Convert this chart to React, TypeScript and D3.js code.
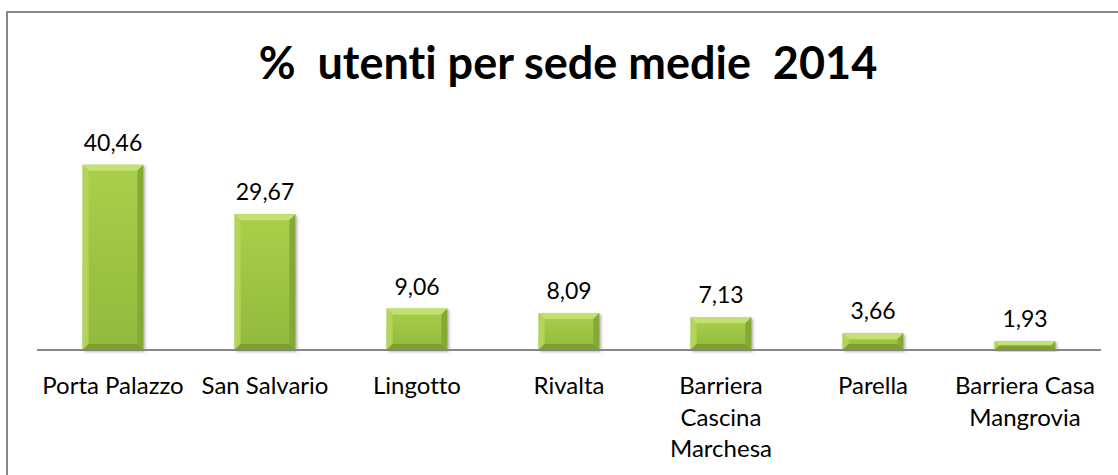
import React from "react";
import * as d3 from "d3";

const categories: string[][] = [
  ["Porta Palazzo"],
  ["San Salvario"],
  ["Lingotto"],
  ["Rivalta"],
  ["Barriera", "Cascina", "Marchesa"],
  ["Parella"],
  ["Barriera Casa", "Mangrovia"],
];
const values: number[] = [40.46, 29.67, 9.06, 8.09, 7.13, 3.66, 1.93];
const valueLabels: string[] = ["40,46", "29,67", "9,06", "8,09", "7,13", "3,66", "1,93"];
const title = "% \u00a0utenti per sede medie\u00a0\u00a02014";

const W = 1118;
const H = 475;
const FONT = "Lato, 'Open Sans', sans-serif";
const noLig = { fontVariantLigatures: "none" as const, fontFeatureSettings: "'liga' 0, 'clig' 0" };

export default function App() {
  const x = d3
    .scaleBand<number>()
    .domain(d3.range(values.length))
    .range([37, 1101])
    .paddingInner(0.6)
    .paddingOuter(0.3);
  const y = d3.scaleLinear().domain([0, 45]).range([350, 144]);
  const bw = x.bandwidth();
  const b = 6;

  return (
    <svg
      width={W}
      height={H}
      style={{ position: "absolute", left: 0, top: 0, display: "block", background: "#fff" }}
    >
      <defs>
        <linearGradient id="face" x1="0" y1="0" x2="0" y2="1">
          <stop offset="0" stopColor="#a9cf4a" />
          <stop offset="1" stopColor="#92b93c" />
        </linearGradient>
        <filter id="sh" x="-20%" y="-20%" width="140%" height="140%">
          <feDropShadow dx="1.5" dy="1.5" stdDeviation="1.5" floodColor="#000" floodOpacity="0.35" />
        </filter>
      </defs>
      <rect x={7} y={12} width={1200} height={600} fill="#fff" stroke="#878787" strokeWidth={2} />
      <text
        x={568}
        y={79}
        textAnchor="middle"
        fontFamily={FONT}
        fontWeight={700}
        fontSize={45}
        fill="#000"
        style={noLig}
      >
        {title}
      </text>
      {values.map((v, i) => {
        const x0 = x(i)!;
        const x1 = x0 + bw;
        const y0 = y(v);
        const y1 = y(0);
        const bb = Math.min(b, (y1 - y0) / 2);
        return (
          <g key={i}>
            <rect x={x0} y={y0} width={bw} height={y1 - y0} fill="url(#face)" filter="url(#sh)" />
            <polygon
              points={`${x0},${y0} ${x1},${y0} ${x1 - bb},${y0 + bb} ${x0 + bb},${y0 + bb}`}
              fill="#c3e173"
            />
            <polygon
              points={`${x0},${y0} ${x0 + bb},${y0 + bb} ${x0 + bb},${y1 - bb} ${x0},${y1}`}
              fill="#b2d459"
            />
            <polygon
              points={`${x1},${y0} ${x1 - bb},${y0 + bb} ${x1 - bb},${y1 - bb} ${x1},${y1}`}
              fill="#84a934"
            />
            <polygon
              points={`${x0},${y1} ${x0 + bb},${y1 - bb} ${x1 - bb},${y1 - bb} ${x1},${y1}`}
              fill="#7f9f33"
            />
            <text
              x={x0 + bw / 2}
              y={y0 - 14}
              textAnchor="middle"
              fontFamily={FONT}
              fontSize={23}
              fill="#000"
              style={noLig}
            >
              {valueLabels[i]}
            </text>
          </g>
        );
      })}
      <line x1={37} x2={1101} y1={350} y2={350} stroke="#868686" strokeWidth={2} />
      {categories.map((lines, i) =>
        lines.map((t, j) => (
          <text
            key={`${i}-${j}`}
            x={x(i)! + bw / 2}
            y={394 + j * 31.5}
            textAnchor="middle"
            fontFamily={FONT}
            fontSize={24}
            fill="#000"
            style={noLig}
          >
            {t}
          </text>
        ))
      )}
    </svg>
  );
}
